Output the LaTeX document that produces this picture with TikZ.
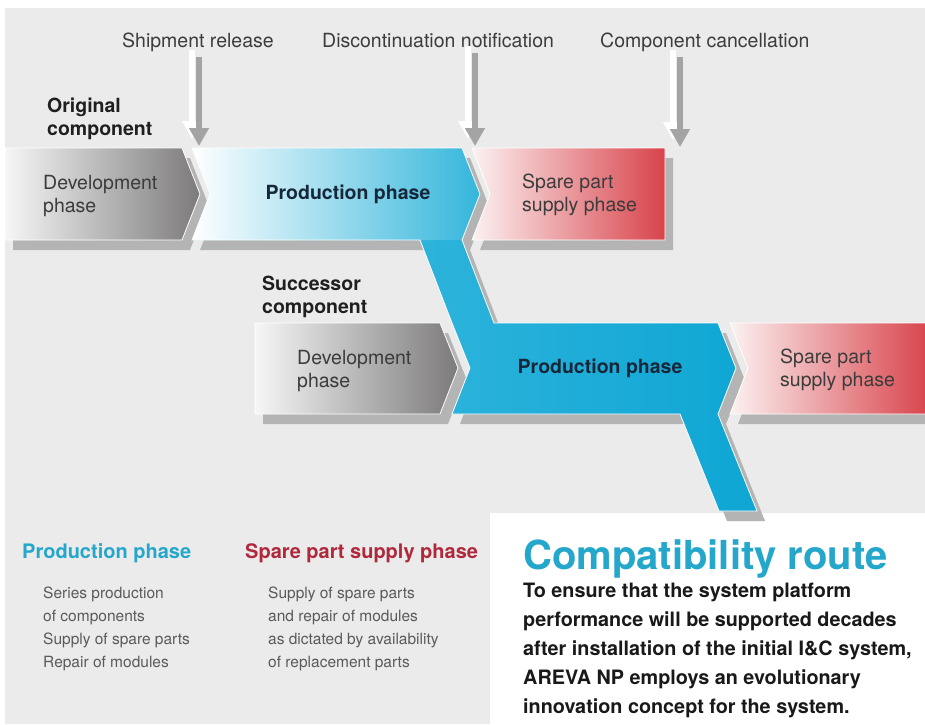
\documentclass[tikz,border=0pt]{standalone}
\usepackage{fontspec}
\setmainfont{TeX Gyre Heros}
\usetikzlibrary{arrows.meta}

\definecolor{bggray}{HTML}{EBEBEB}
\definecolor{dropgray}{HTML}{B4B4B4}
\definecolor{arrowgray}{HTML}{A4A4A4}
\definecolor{devlight}{HTML}{F6F6F6}
\definecolor{devdark}{HTML}{7C7A7A}
\definecolor{redlight}{HTML}{FCF1F1}
\definecolor{reddark}{HTML}{D8434B}
\definecolor{cyanlight}{HTML}{42BCE0}
\definecolor{cyandeep}{HTML}{0EA6D4}
\definecolor{cyanmid}{HTML}{34B6DC}
\definecolor{labelgray}{HTML}{3C3C3C}
\definecolor{listgray}{HTML}{5A5A5A}
\definecolor{headcyan}{HTML}{25A7CC}
\definecolor{headred}{HTML}{B0283C}
\definecolor{navy}{HTML}{17273A}

% outlines of the phase blocks, in pixel units (y grows downwards)
\newcommand{\pathDevA}{(5,148) -- (182,148) -- (200,194) -- (182,240) -- (5,240) -- cycle}
\newcommand{\pathSpareA}{(472,148) -- (665,148) -- (665,240) -- (472,240) -- (490,194) -- cycle}
\newcommand{\pathProdA}{(192,148) -- (462,148) -- (480,194) -- (462,240) -- (192,240) -- (210,194) -- cycle}
\newcommand{\pathDevB}{(255,323) -- (440,323) -- (458,368) -- (440,414) -- (255,414) -- cycle}
\newcommand{\pathSpareB}{(730,323) -- (930,323) -- (930,414) -- (730,414) -- (748,368) -- cycle}
\newcommand{\pathRoute}{(192,148) -- (462,148) -- (480,194) -- (462,240) -- (494,323) -- (718,323)
  -- (736,368) -- (718,414) -- (757,511) -- (719,511) -- (680,414) -- (452,414) -- (470,368)
  -- (452,323) -- (420,240) -- (192,240) -- (210,194) -- cycle}

\tikzset{
  castshadow/.style = {fill=dropgray, shift={(8,10)}},
  devbox/.style     = {left color=devlight, right color=devdark, draw=white, line width=0.8pt},
  sparebox/.style   = {left color=redlight, right color=reddark, draw=white, line width=0.8pt},
  routebox/.style   = {left color=cyanlight, right color=cyandeep},
  milestone/.style  = {line width=6pt, -{Triangle[length=18pt, width=19pt]}, shorten <=6pt},
  lbl/.style        = {anchor=base west, inner sep=0pt, align=left, text=labelgray,
                       font=\fontsize{19.5}{23}\selectfont},
  tag/.style        = {lbl, text=black!88, font=\fontsize{19.5}{23}\selectfont\bfseries},
  phasetxt/.style   = {lbl, font=\fontsize{19.5}{23}\selectfont},
  prodtxt/.style    = {anchor=base, inner sep=0pt, text=navy, font=\fontsize{19.5}{23}\selectfont\bfseries},
  head/.style       = {lbl, font=\fontsize{20}{24}\selectfont\bfseries},
  listtxt/.style    = {lbl, text=listgray, font=\fontsize{15.5}{23}\selectfont},
}

\begin{document}
\begin{tikzpicture}[x=1pt, y=-1pt]

\useasboundingbox (0,0) rectangle (925,724);
\fill[bggray] (5,8) rectangle (925,724);
\fill[white] (490,513) rectangle (925,724);

% drop shadows
\foreach \p in {\pathDevA, \pathSpareA, \pathRoute, \pathDevB, \pathSpareB}
  \fill[castshadow] \p;

% phase blocks
\draw[devbox] \pathDevA;
\draw[sparebox] \pathSpareA;
\draw[devbox] \pathDevB;
\draw[sparebox] \pathSpareB;
\shade[routebox] \pathRoute;
\shade[left color=white, right color=cyanmid] \pathProdA;
\draw[white, line width=0.8pt] \pathRoute;

% milestones
\node[lbl] (ship)    at (122,47) {Shipment release};
\node[lbl] (discont) at (322,47) {Discontinuation notification};
\node[lbl] (cancel)  at (600,47) {Component cancellation};

\coordinate (shipend)    at (199,146);
\coordinate (discontend) at (475,146);
\coordinate (cancelend)  at (680,147);

\foreach \m in {ship, discont, cancel} {
  \draw[milestone, white, transform canvas={xshift=-7pt, yshift=7pt}]
    (\m.south -| \m end) -- (\m end);
  \draw[milestone, arrowgray] (\m.south -| \m end) -- (\m end);
}

% original component (multi-line nodes sit on their last baseline)
\node[tag] (orig) at (47,135) {Original\\component};
\node[phasetxt] (devA)   at (43,212)  {Development\\phase};
\node[prodtxt]  (prodA)  at (348,199) {Production phase};
\node[phasetxt] (spareA) at (522,211) {Spare part\\supply phase};

% successor component
\node[tag] (succ) at (262,313) {Successor\\component};
\node[phasetxt] (devB)   at (297,387) {Development\\phase};
\node[prodtxt]  (prodB)  at (600,373) {Production phase};
\node[phasetxt] (spareB) at (780,386) {Spare part\\supply phase};

% legend
\node[head, text=headcyan] (prodhead)  at (22,558)  {Production phase};
\node[head, text=headred]  (sparehead) at (245,558) {Spare part supply phase};
\node[listtxt] (prodlist)  at (43,667)  {Series production\\of components\\Supply of spare parts\\Repair of modules};
\node[listtxt] (sparelist) at (268,667) {Supply of spare parts\\and repair of modules\\as dictated by availability\\of replacement parts};

% compatibility route box
\node[lbl, text=headcyan, font=\fontsize{40}{42}\selectfont\bfseries] (title) at (523,569) {Compatibility route};
\node[lbl, text=black!90, font=\fontsize{19.8}{29}\selectfont\bfseries] (para) at (523,713)
  {To ensure that the system platform\\performance will be supported decades\\after installation of the initial I\&C system,\\AREVA NP employs an evolutionary\\innovation concept for the system.};

\end{tikzpicture}
\end{document}
